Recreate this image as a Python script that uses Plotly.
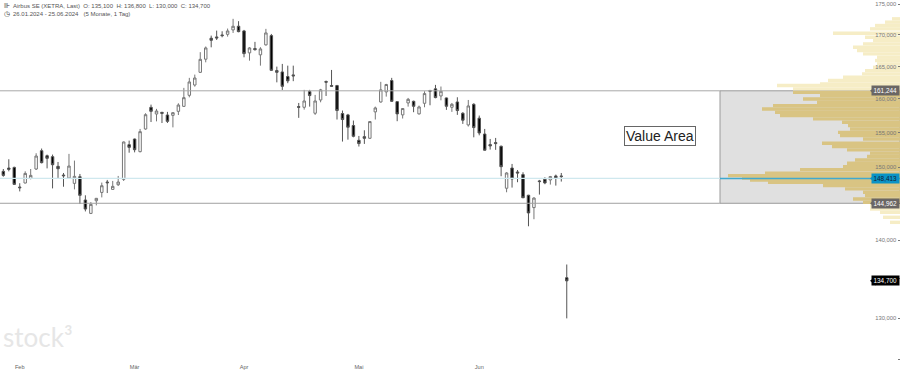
import math
import plotly.graph_objects as go

index = list(range(-1, 104))
opens = [148670, 149410, 149880, 149970, 147210, 147770, 148420, 149740, 152360, 151640, 151500, 150120, 148890, 148470, 147720, 148650, 145410, 143580, 145310, 146460, 147910, 146880, 147530, 148280, 153230, 154050, 152220, 155520, 158740, 157740, 157990, 157590, 157540, 158140, 158890, 160560, 162130, 164090, 166140, 169470, 169680, 170000, 170100, 170810, 171410, 170650, 167140, 167830, 166830, 168410, 169890, 164360, 164150,
         163440, 163690, 158850, 158750, 161130, 157860, 159850, 162670, 162050, 162050, 157810, 157610, 156030, 153870, 154400, 154160, 158060, 159550, 161080, 162820, 159600, 157610, 159400, 159650, 157760, 159350, 161290, 161540, 160460, 160160, 158750, 159550, 157860, 156120, 159200, 157120, 154780, 153240, 153530, 153000, 147040, 149880, 149320, 148950, 146070, 144370, 148060, 148300, 148200, 148760, 148760, 135100]
highs = [149600, 149740, 151130, 150070, 147740, 149415, 149740, 151990, 152670, 151800, 151800, 150740, 149180, 151900, 150940, 149040, 146060, 145130, 145690, 147830, 148200, 148060, 148760, 153680, 153820, 154110, 155530, 157860, 159150, 158510, 158060, 158060, 158010, 159350, 161690, 163230, 163740, 167250, 168150, 169890, 170700, 170590, 171030, 172610, 172230, 170810, 168040, 168890, 168040, 170980, 170160, 164980, 165400,
         165130, 165130, 159400, 161390, 161390, 160620, 161540, 162820, 164460, 162150, 158260, 157760, 156770, 154500, 155330, 156670, 158850, 162620, 162310, 163230, 159650, 158600, 160160, 159750, 159000, 161180, 161390, 162150, 161900, 160210, 159400, 160260, 158010, 159850, 159350, 157510, 155530, 154060, 154210, 153100, 149280, 150460, 149600, 149280, 146120, 145790, 148200, 148580, 148760, 148950, 149180, 136800]
lows = [148480, 148650, 149410, 147490, 146600, 147720, 148280, 149600, 150540, 149830, 147020, 148370, 147250, 148370, 146880, 144860, 143850, 143490, 144670, 145770, 146370, 146840, 147350, 148050, 152070, 152120, 152120, 155420, 156550, 156650, 156400, 156400, 155760, 157590, 158790, 160250, 161880, 163990, 165650, 168020, 169190, 169620, 169730, 170320, 170430, 166440, 165910, 167490, 165130, 168290, 164300, 162540, 161370,
        162410, 162720, 157170, 158400, 158850, 157610, 159500, 160460, 161900, 156920, 153680, 153960, 154300, 152960, 153340, 154060, 156920, 159450, 160360, 159550, 156670, 157070, 158850, 158010, 157660, 158750, 159050, 160110, 159800, 158360, 158060, 157610, 156270, 155880, 154300, 154590, 152380, 152520, 152480, 148720, 146480, 147130, 147880, 145680, 141840, 142790, 146160, 147600, 147550, 147410, 147970, 130000]
closes = [149135, 148840, 149690, 147580, 147110, 149120, 148840, 151590, 150640, 151260, 150350, 149780, 148790, 150160, 148700, 146050, 144170, 144810, 145640, 147390, 147810, 147300, 147910, 153620, 152840, 152500, 155130, 157640, 158140, 158190, 157840, 156650, 157940, 159090, 160200, 162600, 163210, 166120, 167920, 169140, 169510, 169890, 170640, 171400, 170530, 167020, 167920, 167650, 167760, 170320, 164400, 164090, 161930,
          162770, 163540, 158750, 159700, 160520, 159700, 161390, 162570, 161950, 158260, 156920, 155780, 154450, 153390, 154160, 156620, 158650, 161390, 162210, 159650, 157760, 158560, 159950, 158900, 158800, 160820, 161180, 160210, 161180, 158900, 159200, 158260, 156820, 158950, 155730, 154930, 152430, 153050, 153390, 150070, 149180, 148340, 149180, 145720, 143640, 145680, 147970, 147780, 148670, 148480, 148670, 134700]

pale_prices = [172613, 172070, 171520, 170980, 170270, 169630, 169100, 168570, 168040, 167510, 166980, 166450, 165930, 165400, 164870, 164360, 163850, 163330, 162820, 162310, 162050, 161540,
               144630, 144180, 143730, 143050, 142370]
pale_volume = [8, 15, 25, 30, 67, 35, 27, 37, 47, 43, 37, 23, 25, 23, 27, 35, 38, 57, 72, 80, 123, 107,
               30, 30, 20, 17, 10]
va_prices = [161010, 160520, 160000, 159500, 159000, 158500, 158010, 157510, 157020, 156520, 156020, 155530, 155030, 154540, 154060, 153440, 152960, 152480, 152000, 151520, 151030, 150550, 150070, 149650, 149140, 148810, 148480, 148200, 147880, 147410, 146950, 146480, 146010, 145550, 145090]
va_volume = [107, 80, 97, 83, 127, 138, 125, 120, 87, 58, 52, 50, 62, 60, 37, 78, 68, 53, 30, 33, 45, 53, 57, 100, 135, 172, 158, 150, 132, 77, 55, 37, 35, 47, 37]

tick_prices = [175000, 170000, 165000, 160000, 155000, 150000, 145000, 140000, 135000, 130000, 125000]
tick_labels = ["175,000", "170,000", "165,000", "160,000", "155,000", "150,000", "145,000", "140,000", "135,000", "130,000", "125,000"]
month_index = [3, 24, 44, 65, 87]
month_labels = ["Feb", "Mär", "Apr", "Mai", "Jun"]

va_high, va_low, poc, last = 161244, 144962, 148413, 134700
tags = [(va_high, "161,244", "#6a6664", "white"), (poc, "148,413", "#0a93c6", "#123"),
        (va_low, "144,962", "#6a6664", "white"), (last, "134,700", "#000000", "white")]

PLOT_H = 362
XMIN, XMAX = -0.609, 163.92
fig = go.Figure()


def hist_xy(prices, vols):
    xs, ys = [], []
    for p, v in zip(prices, vols):
        xs += [0, v, None]
        ys += [p, p, None]
    return xs, ys


fig.add_shape(type="rect", xref="paper", x0=0.8, x1=1.0, yref="y", y0=va_low, y1=va_high,
              fillcolor="#e0e0e0", line=dict(color="#9a9a9a", width=1), layer="below")
x, y = hist_xy(pale_prices, pale_volume)
fig.add_trace(go.Scatter(x=x, y=y, xaxis="x2", mode="lines", line=dict(color="#f6edc6", width=3.4), hoverinfo="skip"))
x, y = hist_xy(va_prices, va_volume)
fig.add_trace(go.Scatter(x=x, y=y, xaxis="x2", mode="lines", line=dict(color="#d9c483", width=3.4), hoverinfo="skip"))

for lvl, col in [(va_high, "#a8a8a8"), (va_low, "#a0a0a0"), (poc, "#cfe8ee")]:
    fig.add_trace(go.Scatter(x=[XMIN, 131], y=[lvl, lvl], mode="lines", line=dict(color=col, width=1.4 if lvl == poc else 1), hoverinfo="skip"))
fig.add_trace(go.Scatter(x=[0, 180], y=[poc, poc], xaxis="x2", mode="lines", line=dict(color="#3fa9cf", width=1.5), hoverinfo="skip"))

fig.add_trace(go.Candlestick(x=index, open=opens, high=highs, low=lows, close=closes, whiskerwidth=0,
                             increasing=dict(line=dict(color="#777777", width=1), fillcolor="#ffffff"),
                             decreasing=dict(line=dict(color="#555555", width=1), fillcolor="#000000")))

fig.add_trace(go.Scatter(x=[26] * len(tags), y=[t[0] for t in tags], xaxis="x2", mode="markers", cliponaxis=False,
                         marker=dict(symbol="triangle-left", size=8, color=[t[2] for t in tags]), hoverinfo="skip"))

for price, txt, bg, fg in tags:
    fig.add_annotation(xref="paper", x=1.0, xanchor="right", yref="y", y=math.log10(price), yanchor="middle", text=txt,
                       showarrow=False, bgcolor=bg, font=dict(family="Liberation Sans", size=6.4, color=fg),
                       borderpad=0.8, width=25, align="center")

fig.add_annotation(xref="paper", yref="paper", x=659.5 / 900, y=1 - 135.5 / PLOT_H, xanchor="center", yanchor="middle", text="Value Area", showarrow=False,
                   font=dict(family="Liberation Sans", size=14, color="#222222"), bgcolor="#ffffff",
                   bordercolor="#666666", borderwidth=1, borderpad=1)

head_font = dict(family="Liberation Sans", size=6, color="#555555")
fig.add_annotation(xref="paper", yref="paper", x=11 / 900, y=1 - 6.3 / PLOT_H, xanchor="left", yanchor="middle", showarrow=False,
                   text="Airbus SE (XETRA, Last)&nbsp;&nbsp;O: 135,100&nbsp;&nbsp;H: 136,800&nbsp;&nbsp;L: 130,000&nbsp;&nbsp;C: 134,700", font=head_font)
fig.add_annotation(xref="paper", yref="paper", x=11 / 900, y=1 - 14.3 / PLOT_H, xanchor="left", yanchor="middle", showarrow=False,
                   text="26.01.2024 - 25.06.2024&nbsp;&nbsp;&nbsp;(5 Monate, 1 Tag)", font=head_font)
fig.add_annotation(xref="paper", yref="paper", x=2 / 900, y=1 - 6.3 / PLOT_H, xanchor="left", yanchor="middle", showarrow=False,
                   text="⊪", font=dict(family="DejaVu Sans", size=7, color="#333333"))
fig.add_annotation(xref="paper", yref="paper", x=2 / 900, y=1 - 14.3 / PLOT_H, xanchor="left", yanchor="middle", showarrow=False,
                   text="◷", font=dict(family="DejaVu Sans", size=7, color="#333333"))
fig.add_annotation(xref="paper", yref="paper", x=1 / 900, y=1 - 337 / PLOT_H, xanchor="left", yanchor="middle", showarrow=False,
                   text="stock³", font=dict(family="Lato", size=26, color="#e6e6e6"))

fig.update_layout(
    width=900, height=371, margin=dict(l=0, r=0, t=0, b=371 - PLOT_H), showlegend=False,
    paper_bgcolor="white", plot_bgcolor="white", boxgap=0.36,
    xaxis=dict(range=[XMIN, XMAX], tickmode="array", tickvals=month_index, ticktext=month_labels, showgrid=False, zeroline=False,
               showline=False, ticks="", rangeslider=dict(visible=False), tickfont=dict(family="Liberation Sans", size=5.6, color="#666666")),
    xaxis2=dict(overlaying="x", range=[900, 0], visible=False, domain=[0, 1]),
    yaxis=dict(type="log", side="right", range=[5.09601, 5.24481], tickmode="array", tickvals=tick_prices, ticktext=tick_labels,
               ticklabelposition="inside", showgrid=False, zeroline=False, showline=False, ticks="inside", ticklen=2, tickcolor="#777777",
               tickfont=dict(family="Liberation Sans", size=5.8, color="#777777")),
)
fig.write_html("out.html", config=dict(displayModeBar=False), post_script="document.body.style.margin='0'")
